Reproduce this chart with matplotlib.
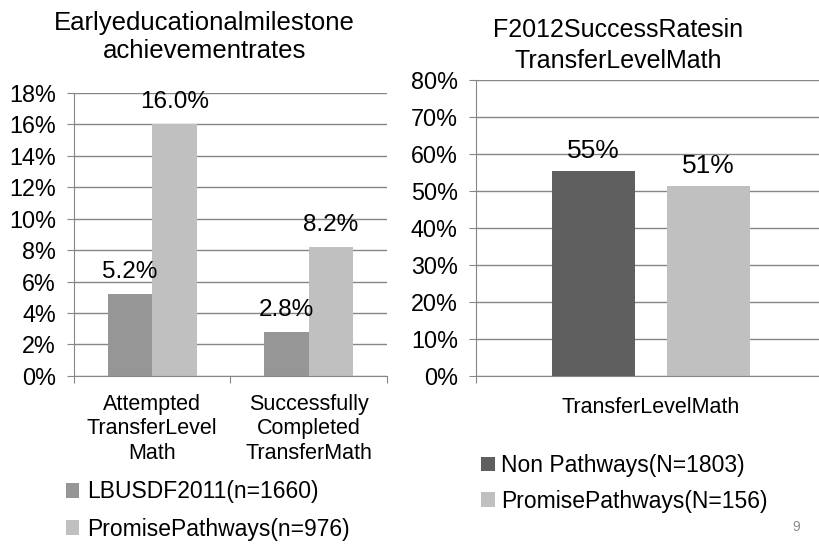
import numpy as np
from matplotlib import pyplot as plt
from matplotlib.ticker import FixedLocator, PercentFormatter

plt.rcParams['font.family'] = ['Liberation Sans', 'DejaVu Sans']

# left chart data
left_cats = ["Attempted\nTransferLevel\nMath", "Successfully\nCompleted\nTransferMath"]
lbusd_vals = [5.2, 2.8]
promise_vals = [16.0, 8.2]
left_series = ["LBUSDF2011(n=1660)", "PromisePathways(n=976)"]

# right chart data
right_cat = ["TransferLevelMath"]
non_pathways = [55.4]
promise_right = [51.3]
right_series = ["Non Pathways(N=1803)", "PromisePathways(N=156)"]

grid_col = "#868686"
dark_left = "#969696"
light = "#c0c0c0"
dark_right = "#5f5f5f"

fig = plt.figure(figsize=(8.19, 5.44), dpi=100)

def style_axis(ax, xpad):
    ax.set_axisbelow(True)
    ax.yaxis.grid(True, color=grid_col, linewidth=1)
    for s in ["top", "right"]:
        ax.spines[s].set_visible(False)
    for s in ["left", "bottom"]:
        ax.spines[s].set_color(grid_col)
    ax.tick_params(axis="y", colors=grid_col, labelcolor="black", length=5,
                   labelsize=16.8, pad=8)
    ax.tick_params(axis="x", which="major", colors=grid_col, length=5, labelbottom=False)
    ax.tick_params(axis="x", which="minor", length=0, labelsize=15.5, pad=xpad)

# ---- left chart
ax1 = fig.add_axes([0.0904, 0.309, 0.382, 0.520])
x = np.arange(len(left_cats))
w = 0.284
b1 = ax1.bar(x - w / 2, lbusd_vals, w, color=dark_left, label=left_series[0])
b2 = ax1.bar(x + w / 2, promise_vals, w, color=light, label=left_series[1])
ax1.set_xlim(-0.5, len(left_cats) - 0.5)
ax1.set_ylim(0, 18)
ax1.set_yticks(np.arange(0, 19, 2))
ax1.yaxis.set_major_formatter(PercentFormatter(decimals=0))
ax1.xaxis.set_major_locator(FixedLocator([-0.5, 0.5, 1.5]))
ax1.xaxis.set_minor_locator(FixedLocator(list(x)))
ax1.set_xticklabels(left_cats, minor=True, linespacing=1.22)
style_axis(ax1, 13)
for bars in (b1, b2):
    ax1.bar_label(bars, labels=["%.1f%%" % v for v in bars.datavalues],
                  padding=8, fontsize=17.5)
fig.text(0.250, 0.932, "Earlyeducationalmilestone\nachievementrates", fontsize=18.5,
         ha="center", va="center", linespacing=1.17)

fig.legend(handles=[b1, b2], loc="upper left", bbox_to_anchor=(0.08, 0.117),
           frameon=False, fontsize=16.5, handlelength=0.6, handleheight=0.6,
           handletextpad=0.35, labelspacing=0.62, borderpad=0, borderaxespad=0)

# ---- right chart
ax2 = fig.add_axes([0.581, 0.309, 0.419, 0.544])
xr = np.arange(len(right_cat))
wr = 0.237
r1 = ax2.bar(xr - 0.164, non_pathways, wr, color=dark_right, label=right_series[0])
r2 = ax2.bar(xr + 0.164, promise_right, wr, color=light, label=right_series[1])
ax2.set_xlim(-0.5, 0.48)
ax2.set_ylim(0, 80)
ax2.set_yticks(np.arange(0, 81, 10))
ax2.yaxis.set_major_formatter(PercentFormatter(decimals=0))
ax2.xaxis.set_major_locator(FixedLocator([-0.5]))
ax2.xaxis.set_minor_locator(FixedLocator(list(xr)))
ax2.set_xticklabels(right_cat, minor=True)
style_axis(ax2, 15)
for bars in (r1, r2):
    ax2.bar_label(bars, labels=["%.0f%%" % v for v in bars.datavalues],
                  padding=6, fontsize=19)
fig.text(0.7546, 0.916, "F2012SuccessRatesin\nTransferLevelMath", fontsize=18,
         ha="center", va="center", linespacing=1.4)

fig.legend(handles=[r1, r2], loc="upper left", bbox_to_anchor=(0.587, 0.165),
           frameon=False, fontsize=16.5, handlelength=0.6, handleheight=0.6,
           handletextpad=0.3, labelspacing=0.55, borderpad=0, borderaxespad=0)

fig.text(0.977, 0.018, "9", fontsize=10, color="#8c8c8c", ha="right", va="bottom")

fig.savefig("out.png", dpi=100)
